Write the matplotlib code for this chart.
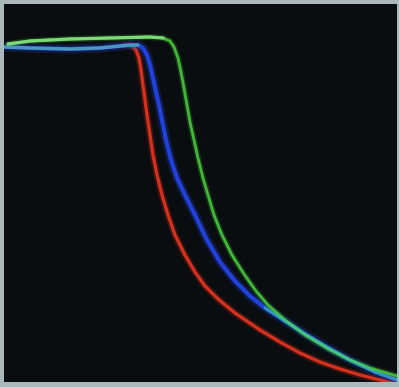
import numpy as np
import matplotlib.pyplot as plt

green_x = [8, 30, 70, 110, 150, 163, 170, 174, 178, 181, 184, 187, 190, 194, 198, 203, 208, 214,
           222, 232, 244, 256, 268, 285, 305, 330, 350, 370, 397]
green_y = [44, 41, 39, 38, 37, 38, 41, 47, 58, 72, 88, 105, 122, 140, 158, 178, 195, 215,
           235, 255, 274, 291, 305, 320, 335, 350, 360, 368, 376]

blue_x = [5, 30, 70, 100, 130, 138, 143, 147, 150, 153, 156, 159, 162, 166, 171, 177, 185, 195,
          207, 220, 235, 250, 265, 285, 305, 325, 350, 375, 397]
blue_y = [47, 48, 49, 48, 45, 45, 48, 55, 65, 78, 92, 105, 120, 140, 160, 178, 195, 215,
          240, 262, 281, 296, 308, 321, 334, 346, 360, 372, 380]

red_x = [125, 132, 136, 139, 141, 143, 145, 147, 150, 153, 157, 162, 168, 175, 185, 195, 205, 218,
         235, 260, 280, 300, 320, 340, 360, 380, 397]
red_y = [45, 46, 50, 58, 70, 85, 100, 115, 135, 155, 175, 195, 215, 235, 255, 272, 286, 299,
         313, 330, 342, 353, 362, 369, 375, 380, 384]

fig = plt.figure(figsize=(3.99, 3.87), dpi=100, facecolor='#aab8bc')
ax = fig.add_axes([4 / 399, 5 / 387, 393 / 399, 378 / 387])
ax.set_facecolor('#0a0d0f')

curves = [
    (red_x, red_y, '#e3321f', 2.3),
    (blue_x, blue_y, '#2244e6', 3.0),
    (green_x, green_y, '#45c03a', 2.0),
]
for xs, ys, col, lw in curves:
    # soft glow under the line
    ax.plot(xs, ys, color=col, lw=lw * 2.2, alpha=0.22, solid_capstyle='round',
            solid_joinstyle='round')
    ax.plot(xs, ys, color=col, lw=lw, alpha=0.95, solid_capstyle='round',
            solid_joinstyle='round')

# pale tint on the flat tops and where blue and green run together
ax.plot(blue_x[:6], blue_y[:6], color='#5ab4b0', lw=2.4, alpha=0.75, solid_capstyle='round')
ax.plot(green_x[:6], green_y[:6], color='#8fe88a', lw=2.4, alpha=0.75, solid_capstyle='round')
ax.plot(blue_x[-7:], blue_y[-7:], color='#3fd0b0', lw=2.2, alpha=0.55, solid_capstyle='round')

ax.set_xlim(4, 397)
ax.set_ylim(382, 4)
ax.set_xticks([])
ax.set_yticks([])
for s in ax.spines.values():
    s.set_visible(False)

fig.savefig('out.png', dpi=100, facecolor=fig.get_facecolor())
